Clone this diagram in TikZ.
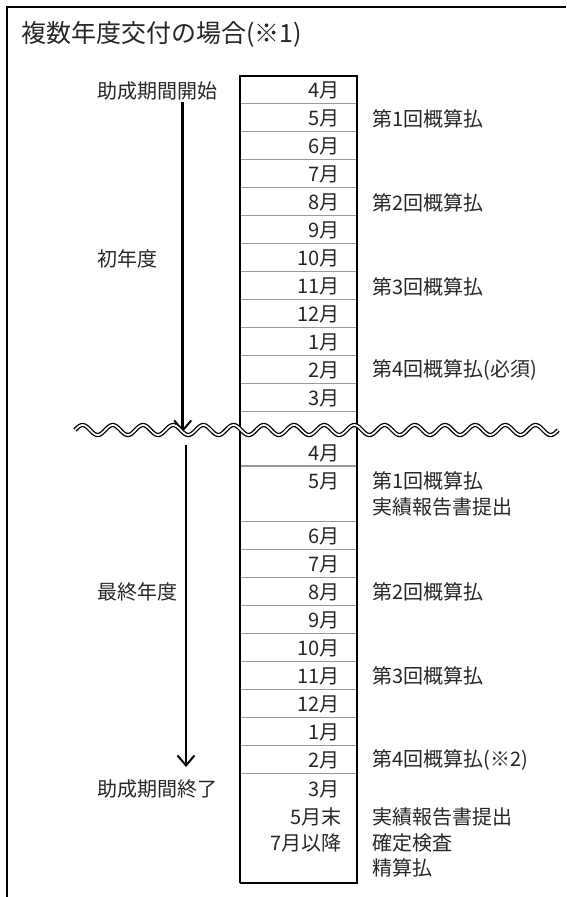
\documentclass[tikz,border=0pt]{standalone}
\usepackage{fontspec}
\setmainfont{Noto Sans CJK JP}
\usetikzlibrary{arrows.meta}
\begin{document}
\begin{tikzpicture}[x=1pt,y=-1pt,
  lbl/.style={inner sep=0pt, text=black!85, font=\fontsize{20}{24}\selectfont},
  mon/.style={lbl, anchor=east},
  rt/.style={lbl, anchor=west},
  lf/.style={lbl, anchor=west},
  sepline/.style={draw=black!40, line width=1.4pt},
  boxline/.style={line width=2.2pt},
  framer/.style={line width=2.4pt},
  period/.style={line width=2.6pt, -{Straight Barb[length=10pt,width=17pt,line width=2pt]}},
  wave/.style={line width=1.3pt, double=white, double distance=1.7pt, line join=round},
]
\useasboundingbox (0,0) rectangle (566,897);
% frame
\draw[framer] (7,897) -- (7,7) -- (566,7);
\node[anchor=west, inner sep=0pt, text=black!85, font=\fontsize{25}{29}\selectfont] (title) at (21,34) {複数年度交付の場合(※1)};

% box outline
\coordinate (bTL) at (240,76);
\coordinate (bTR) at (357,76);
\coordinate (bBL) at (240,883);
\coordinate (bBR) at (357,883);
% first-year separators
\foreach \k in {1,...,12}{
  \draw[sepline] (241,{103.5+28*(\k-1)}) -- (356,{103.5+28*(\k-1)});
}
% second-year separators
\draw[sepline] (241,466) -- (356,466);
\foreach \k in {0,...,9}{
  \draw[sepline] (241,{521.3+28*\k}) -- (356,{521.3+28*\k});
}
\draw[boxline] (bBL) -- (bTL) -- (bTR) -- (bBR) -- (bBL);

% first-year months
\node[mon] (m1) at (340,90.5) {4月};
\node[mon] (m2) at (340,118.5) {5月};
\node[mon] (m3) at (340,146.5) {6月};
\node[mon] (m4) at (340,174.5) {7月};
\node[mon] (m5) at (340,202.5) {8月};
\node[mon] (m6) at (340,230.5) {9月};
\node[mon] (m7) at (340,258.5) {10月};
\node[mon] (m8) at (340,286.5) {11月};
\node[mon] (m9) at (340,314.5) {12月};
\node[mon] (m10) at (340,342.5) {1月};
\node[mon] (m11) at (340,370.5) {2月};
\node[mon] (m12) at (340,398.5) {3月};

% second-year months
\node[mon] (n1) at (340,453) {4月};
\node[mon] (n2) at (340,481) {5月};
\node[mon] (n3) at (340,536.3) {6月};
\node[mon] (n4) at (340,564.3) {7月};
\node[mon] (n5) at (340,592.3) {8月};
\node[mon] (n6) at (340,620.3) {9月};
\node[mon] (n7) at (340,648.3) {10月};
\node[mon] (n8) at (340,676.3) {11月};
\node[mon] (n9) at (340,704.3) {12月};
\node[mon] (n10) at (340,732.3) {1月};
\node[mon] (n11) at (340,760.3) {2月};
\node[mon] (n12) at (340,789) {3月};
\node[mon] (n13) at (342,817) {5月末};
\node[mon] (n14) at (342,842.5) {7月以降};

% right labels, first year
\node[rt] (r1) at (372,118.5) {第1回概算払};
\node[rt] (r2) at (372,202.5) {第2回概算払};
\node[rt] (r3) at (372,286.5) {第3回概算払};
\node[rt] (r4) at (372,370.5) {第4回概算払(必須)};
% right labels, final year
\node[rt] (s1) at (372,481) {第1回概算払};
\node[rt] (s2) at (372,507) {実績報告書提出};
\node[rt] (s3) at (372,592.3) {第2回概算払};
\node[rt] (s4) at (372,676.3) {第3回概算払};
\node[rt] (s5) at (372,760.3) {第4回概算払(※2)};
\node[rt] (s6) at (372,817) {実績報告書提出};
\node[rt] (s7) at (372,842.5) {確定検査};
\node[rt] (s8) at (372,868) {精算払};

% left labels
\node[lf] (l1) at (97,90.5) {助成期間開始};
\node[lf] (l2) at (97,258.5) {初年度};
\node[lf] (l3) at (97,592.3) {最終年度};
\node[lf] (l4) at (97,789) {助成期間終了};

% period arrows
\coordinate (a1s) at (182.7,102);
\coordinate (a1e) at (182.7,432);
\coordinate (a2s) at (186,445);
\coordinate (a2e) at (186,767);
\draw[period] (a1s) -- (a1e);
\draw[period] (a2s) -- (a2e);

% wavy break line
\draw[wave] plot[domain=75:558, samples=300] (\x, {430-5*sin(((\x-75)/30.2)*360)});
\end{tikzpicture}
\end{document}
